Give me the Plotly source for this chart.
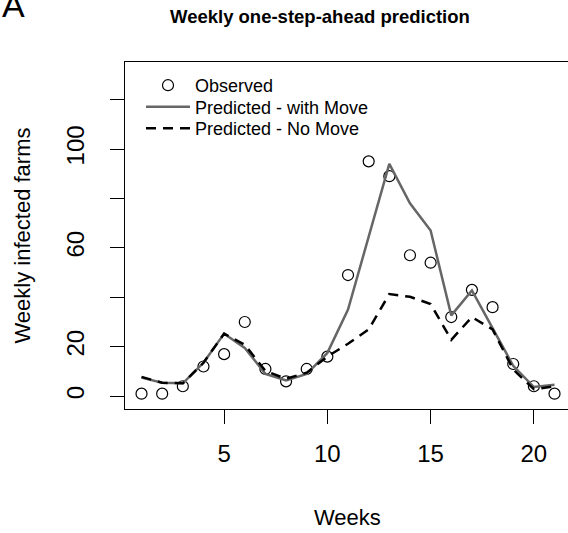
import plotly.graph_objects as go

weeks = list(range(1, 22))
observed = [1, 1, 4, 12, 17, 30, 11, 6, 11, 16, 49, 95, 89, 57, 54, 32, 43, 36, 13, 4, 1]
pred_with_move = [7.5, 5.4, 5.2, 13.5, 25.3, 19.5, 9, 6.4, 9, 17.5, 35, 64, 94, 78, 67, 32.7, 42.8, 27.5, 12.3, 3.7, 4.6]
pred_no_move = [7.8, 5.4, 5.2, 13.5, 25.3, 20.8, 10.2, 7, 9.5, 16, 21.2, 27, 41.3, 40.2, 37.3, 22.8, 32, 27, 10.8, 2.8, 4]
y_tickvals = [0, 20, 40, 60, 80, 100, 120]
y_ticktext = ["0", "20", "", "60", "", "100", ""]
x_tickvals = [5, 10, 15, 20]

FONT = "Liberation Sans, Arial, sans-serif"
W, H = 568, 533
L, R, T, B = 125, 0, 62, 124
pw, ph = W - L - R, H - T - B

def px_x(p):
    return (p - L) / pw

def px_y(p):
    return (H - B - p) / ph

fig = go.Figure()
fig.add_trace(go.Scatter(x=weeks, y=observed, mode="markers", name="Observed", legend="legend",
                         marker=dict(symbol="circle-open", size=11, color="black", line=dict(width=1.2))))
fig.add_trace(go.Scatter(x=weeks, y=pred_with_move, mode="lines", name="Predicted - with Move",
                         legend="legend2", line=dict(color="#666666", width=2.5)))
fig.add_trace(go.Scatter(x=weeks, y=pred_no_move, mode="lines", name="Predicted - No Move",
                         legend="legend3", line=dict(color="black", width=2.5, dash="10px,7px")))

def leg(top_px):
    return dict(x=px_x(141), y=px_y(top_px), xanchor="left", yanchor="top",
                font=dict(size=18, family=FONT), bgcolor="rgba(0,0,0,0)",
                tracegroupgap=0, itemwidth=44)

fig.update_layout(
    width=W, height=H,
    margin=dict(l=L, r=R, t=T, b=B, pad=0),
    paper_bgcolor="white", plot_bgcolor="white",
    font=dict(family=FONT, color="black", size=22),
    showlegend=True,
    legend=leg(67), legend2=leg(88.5), legend3=leg(110),
    xaxis=dict(range=[0.2, 0.2 + pw / 20.65], tickvals=x_tickvals, ticks="outside", ticklen=14,
               tickwidth=1, tickcolor="black", showline=True, linecolor="black", linewidth=1.2,
               mirror=True, showgrid=False, zeroline=False, tickfont=dict(size=24),
               ticklabelstandoff=9),
    yaxis=dict(range=[-5.2, 135.2], tickvals=y_tickvals, ticktext=y_ticktext, ticks="outside",
               ticklen=14, tickwidth=1, tickcolor="black", showline=True, linecolor="black",
               linewidth=1.2, showgrid=False, zeroline=False, tickangle=-90,
               tickfont=dict(size=24), ticklabelstandoff=16),
    annotations=[
        dict(text="Weeks", x=px_x(347.7), y=px_y(517), xref="paper", yref="paper",
             xanchor="center", yanchor="middle", showarrow=False, font=dict(size=22)),
        dict(text="Weekly infected farms", x=px_x(22), y=px_y(235.5), xref="paper", yref="paper",
             xanchor="center", yanchor="middle", textangle=-90, showarrow=False, font=dict(size=22)),
        dict(text="<b>Weekly one-step-ahead prediction</b>", x=px_x(320), y=px_y(17), xref="paper",
             yref="paper", xanchor="center", yanchor="middle", showarrow=False, font=dict(size=18.5)),
        dict(text="A", x=px_x(0), y=px_y(5), xref="paper", yref="paper",
             xanchor="left", yanchor="middle", showarrow=False, font=dict(size=34)),
    ],
)

fig.write_html("out.html", config={"displayModeBar": False},
               post_script="document.body.style.margin='0';document.body.style.overflow='hidden';")
